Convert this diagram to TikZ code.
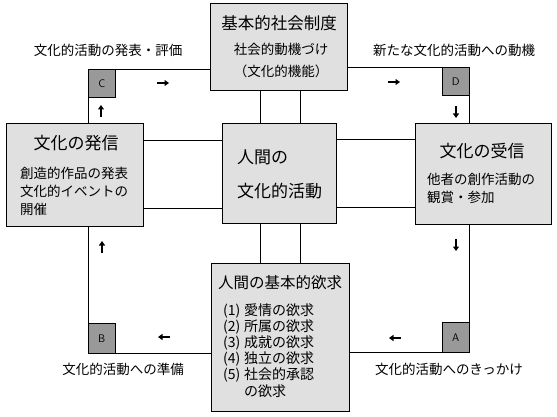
\documentclass[tikz,border=0pt]{standalone}
\usepackage{fontspec}
\newfontfamily\jp{Noto Sans CJK JP}
\usetikzlibrary{arrows.meta}
\definecolor{boxfill}{gray}{0.88}
\definecolor{tagfill}{gray}{0.6}
\begin{document}
\begin{tikzpicture}[x=1pt,y=-1pt,
  box/.style={draw, line width=1pt, fill=boxfill, inner sep=0pt, anchor=north west},
  tag/.style={draw, line width=0.6pt, fill=tagfill, inner sep=0pt, anchor=north west,
              minimum width=27pt, minimum height=28pt, font=\sffamily\fontsize{11}{13}\selectfont},
  link/.style={line width=0.6pt},
  flow/.style={line width=1.5pt, -{Triangle[length=4.5pt,width=6pt]}},
  ttl/.style={font=\jp\fontsize{16.5}{19}\selectfont, inner sep=0pt},
  txt/.style={font=\jp\fontsize{13.5}{16}\selectfont, inner sep=0pt},
  itm/.style={font=\jp\fontsize{14}{16}\selectfont, inner sep=0pt, anchor=west},
  lbl/.style={font=\jp\fontsize{13.5}{16}\selectfont, inner sep=0pt},
]
\useasboundingbox[fill=white] (0,0) rectangle (557,417);

% main boxes
\node[box, minimum width=137pt, minimum height=87pt] (top) at (210,3) {};
\node[box, minimum width=137pt, minimum height=103pt] (left) at (6,123) {};
\node[box, minimum width=114pt, minimum height=100pt] (center) at (222,123) {};
\node[box, minimum width=136pt, minimum height=101pt] (right) at (415,123) {};
\node[box, minimum width=138pt, minimum height=148pt] (bottom) at (211,263) {};

% tags
\node[tag] (C) at (88,69) {C};
\node[tag] (D) at (442,67) {D};
\node[tag, minimum height=30pt] (A) at (442,322) {A};
\node[tag, minimum height=30pt] (B) at (88,323) {B};

% connectors
\draw[link] (C.north east) -- (C.north east -| top.west);
\draw[link] (C.south west) -- (C.south west |- left.north);
\draw[link] (D.north west) -- (D.north west -| top.east);
\draw[link] (D.south east) -- (D.south east |- right.north);
\draw[link] (A.north east) -- (A.north east |- right.south);
\draw[link] (A.south west) -- (A.south west -| bottom.east);
\draw[link] (B.south east) -- (B.south east -| bottom.west);
\draw[link] (B.north west) -- (B.north west |- left.south);

\draw[link] (left.east |- 0,140) -- (center.west |- 0,140);
\draw[link] (left.east |- 0,208) -- (center.west |- 0,208);
\draw[link] (center.east |- 0,139) -- (right.west |- 0,139);
\draw[link] (center.east |- 0,207) -- (right.west |- 0,207);
\draw[link] (top.south -| 260,0) -- (center.north -| 260,0);
\draw[link] (top.south -| 300,0) -- (center.north -| 300,0);
\draw[link] (center.south -| 260,0) -- (bottom.north -| 260,0);
\draw[link] (center.south -| 300,0) -- (bottom.north -| 300,0);

% flow marks
\coordinate (c1) at (157,83); \coordinate (c2) at (169,83);
\coordinate (c3) at (101,117); \coordinate (c4) at (101,105);
\coordinate (d1) at (388,82); \coordinate (d2) at (400,82);
\coordinate (d3) at (456,106); \coordinate (d4) at (456,118);
\coordinate (r1) at (456,239); \coordinate (r2) at (456,251);
\coordinate (a1) at (401,338); \coordinate (a2) at (389,338);
\coordinate (b1) at (170,337); \coordinate (b2) at (158,337);
\coordinate (b3) at (102,253); \coordinate (b4) at (102,241);
\draw[flow] (c1) -- (c2);
\draw[flow] (c3) -- (c4);
\draw[flow] (d1) -- (d2);
\draw[flow] (d3) -- (d4);
\draw[flow] (r1) -- (r2);
\draw[flow] (a1) -- (a2);
\draw[flow] (b1) -- (b2);
\draw[flow] (b3) -- (b4);

% top box text
\node[ttl] (t1) at (279,23) {基本的社会制度};
\node[txt] (t2) at (281,49) {社会的動機づけ};
\node[txt] (t3) at (281,71) {（文化的機能）};

% left box text
\node[ttl, font=\jp\fontsize{17}{20}\selectfont] (l1) at (76,143) {文化の発信};
\node[txt, anchor=west] (l2) at (20,173) {創造的作品の発表};
\node[txt, anchor=west] (l3) at (20,191) {文化的イベントの};
\node[txt, anchor=west] (l4) at (20,209) {開催};

% center box text
\node[ttl, font=\jp\fontsize{17}{20}\selectfont, anchor=west] (m1) at (237,157) {人間の};
\node[ttl, font=\jp\fontsize{17}{20}\selectfont, anchor=west] (m2) at (237,191) {文化的活動};

% right box text
\node[ttl, font=\jp\fontsize{17}{20}\selectfont] (r3) at (482,151) {文化の受信};
\node[txt, anchor=west] (r4) at (427,179) {他者の創作活動の};
\node[txt, anchor=west] (r5) at (427,197) {観賞・参加};

% bottom box text
\node[ttl, font=\jp\fontsize{15.5}{18}\selectfont] (u0) at (280,283) {人間の基本的欲求};
\node[itm] (u1) at (223,311) {\makebox[21pt][l]{(1)}愛情の欲求};
\node[itm] (u2) at (223,327) {\makebox[21pt][l]{(2)}所属の欲求};
\node[itm] (u3) at (223,343) {\makebox[21pt][l]{(3)}成就の欲求};
\node[itm] (u4) at (223,359) {\makebox[21pt][l]{(4)}独立の欲求};
\node[itm] (u5) at (223,375) {\makebox[21pt][l]{(5)}社会的承認};
\node[itm] (u6) at (244,391) {の欲求};

% outer labels
\node[lbl] (lc) at (108,50) {文化的活動の発表・評価};
\node[lbl] (ld) at (454,50) {新たな文化的活動への動機};
\node[lbl] (lb) at (123,369) {文化的活動への準備};
\node[lbl] (la) at (449,369) {文化的活動へのきっかけ};
\end{tikzpicture}
\end{document}
